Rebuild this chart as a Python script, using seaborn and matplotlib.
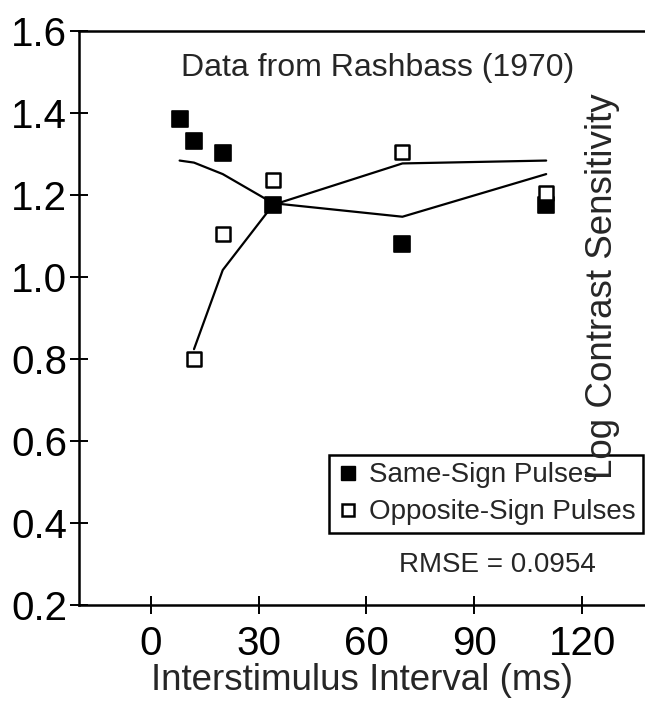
import numpy as np
import pandas as pd
import matplotlib
matplotlib.use('Agg')
import matplotlib.pyplot as plt
from matplotlib.lines import Line2D
import seaborn as sns

# ----- data ----- #
same_isi = [8, 12, 20, 34, 70, 110]
same_obs = [1.385, 1.332, 1.303, 1.176, 1.080, 1.176]
same_fit = [1.284, 1.279, 1.251, 1.180, 1.147, 1.251]

opp_isi = [12, 20, 34, 70, 110]
opp_obs = [0.799, 1.105, 1.237, 1.304, 1.206]
opp_fit = [0.824, 1.017, 1.176, 1.277, 1.284]

x_ticks = [0, 30, 60, 90, 120]
y_ticks = [0.2, 0.4, 0.6, 0.8, 1.0, 1.2, 1.4, 1.6]

same_df = pd.DataFrame({'isi': same_isi, 'obs': same_obs, 'fit': same_fit})
opp_df = pd.DataFrame({'isi': opp_isi, 'obs': opp_obs, 'fit': opp_fit})

sns.set_style('ticks')
plt.rcParams['font.family'] = ['Liberation Sans', 'DejaVu Sans']

fig = plt.figure(figsize=(6.45, 7.11), dpi=100)
ax = fig.add_axes([79 / 645, 1 - 605 / 711, 1 - 79 / 645, (605 - 31) / 711])

# model curves
sns.lineplot(data=same_df, x='isi', y='fit', color='black', lw=1.6, ax=ax)
sns.lineplot(data=opp_df, x='isi', y='fit', color='black', lw=1.6, ax=ax)

# observed points
sns.scatterplot(data=same_df, x='isi', y='obs', marker='s', s=120, color='black',
                edgecolor='black', linewidth=1.2, zorder=5, ax=ax)
sns.scatterplot(data=opp_df, x='isi', y='obs', marker='s', s=95, color='white',
                edgecolor='black', linewidth=1.8, zorder=5, ax=ax)

ax.set_xlim(-20, 137.5)
ax.set_ylim(0.2, 1.6)
ax.set_xticks(x_ticks)
ax.set_yticks(y_ticks)
ax.set_yticklabels([f'{v:.1f}' for v in y_ticks])
ax.tick_params(direction='inout', length=13, width=1.4, labelsize=29, colors='black', pad=2)
ax.tick_params(axis='x', pad=8)
for side in ['left', 'bottom', 'top']:
    ax.spines[side].set_linewidth(1.8)
    ax.spines[side].set_color('black')
ax.spines['right'].set_visible(False)

ax.set_xlabel('Interstimulus Interval (ms)', fontsize=26.5, labelpad=0)
ax.set_ylabel('Log Contrast Sensitivity', fontsize=26.5)
ax.yaxis.set_label_coords(0.925, 0.555)
ax.yaxis.label.set_va('center')

ax.text(0.528, 0.935, 'Data from Rashbass (1970)', transform=ax.transAxes,
        ha='center', va='center', fontsize=23)
ax.text(0.739, 0.07, 'RMSE = 0.0954', transform=ax.transAxes,
        ha='center', va='center', fontsize=20)

handles = [
    Line2D([], [], marker='s', ls='none', ms=10, mfc='black', mec='black'),
    Line2D([], [], marker='s', ls='none', ms=9, mfc='white', mec='black', mew=1.8),
]
leg = ax.legend(handles, ['Same-Sign Pulses', 'Opposite-Sign Pulses'],
                loc='lower right', bbox_to_anchor=(0.9965, 0.125), borderaxespad=0,
                fontsize=20, frameon=True, fancybox=False, edgecolor='black',
                framealpha=1, borderpad=0.28, labelspacing=0.4, handlelength=0.8,
                handletextpad=0.35)
leg.get_frame().set_linewidth(1.8)
# the y label sits on top of the legend box in the original
ax.set_axisbelow(False)
leg.set_zorder(2)

fig.savefig('out.png', dpi=100)
